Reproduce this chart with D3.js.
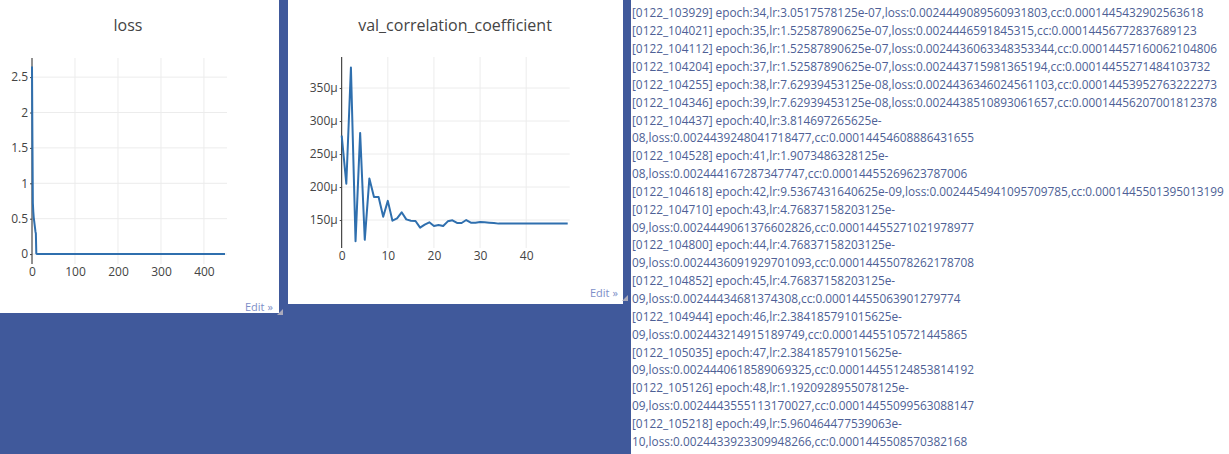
<!DOCTYPE html>
<html>
<head>
<meta charset="utf-8">
<script src="https://cdn.jsdelivr.net/npm/d3@7/dist/d3.min.js"></script>
<style>
  html, body { margin: 0; padding: 0; background: #40599b; overflow: hidden; }
  svg { display: block; }
</style>
</head>
<body>
<svg id="chart" width="1229" height="454"></svg>
<script>
// ---- data ----
const lossTitle = "loss";
const ccTitle = "val_correlation_coefficient";

// loss curve: [step, loss]
const lossSteps  = [0, 1, 2, 3, 4, 5, 6, 7, 8, 9, 10, 11, 449];
const lossValues = [2.65, 1.6, 0.72, 0.6, 0.52, 0.47, 0.42, 0.37, 0.32, 0.29, 0.01, 0.0025, 0.00244];
const lossXTicks = [0, 100, 200, 300, 400];
const lossYTicks = [0, 0.5, 1, 1.5, 2, 2.5];

// validation correlation coefficient per epoch (x1e-6)
const ccEpochs = d3.range(0, 50);
const ccValues = [278, 205, 381, 118, 282, 120, 213, 185, 185, 155,
                  179, 149, 152.5, 161.7, 151, 149, 148.5, 138.4, 143, 146.5,
                  141, 142.5, 141, 148, 149.5, 145.5, 145.5, 150, 146, 146,
                  147, 146.5, 146, 145.5, 144.54, 144.57, 144.57, 144.55, 144.54, 144.56,
                  144.55, 144.55, 144.55, 144.55, 144.55, 144.55, 144.55, 144.55, 144.55, 144.55];
const ccXTicks = [0, 10, 20, 30, 40];
const ccYTicks = [150, 200, 250, 300, 350];

// log panel lines (as displayed)
const logLines = [
  "[0122_103929] epoch:34,lr:3.0517578125e-07,loss:0.0024449089560931803,cc:0.00014454329025636 18",
  "[0122_104021] epoch:35,lr:1.52587890625e-07,loss:0.0024446591845315,cc:0.00014456772837689123",
  "[0122_104112] epoch:36,lr:1.52587890625e-07,loss:0.0024436063348353344,cc:0.00014457160062104806",
  "[0122_104204] epoch:37,lr:1.52587890625e-07,loss:0.002443715981365194,cc:0.00014455271484103732",
  "[0122_104255] epoch:38,lr:7.62939453125e-08,loss:0.0024436346024561103,cc:0.00014453952763222273",
  "[0122_104346] epoch:39,lr:7.62939453125e-08,loss:0.0024438510893061657,cc:0.00014456207001812378",
  "[0122_104437] epoch:40,lr:3.814697265625e-",
  "08,loss:0.0024439248041718477,cc:0.00014454608886431655",
  "[0122_104528] epoch:41,lr:1.9073486328125e-",
  "08,loss:0.002444167287347747,cc:0.00014455269623787006",
  "[0122_104618] epoch:42,lr:9.5367431640625e-09,loss:0.0024454941095709785,cc:0.0001445501395013199",
  "[0122_104710] epoch:43,lr:4.76837158203125e-",
  "09,loss:0.0024449061376602826,cc:0.00014455271021978977",
  "[0122_104800] epoch:44,lr:4.76837158203125e-",
  "09,loss:0.0024436091929701093,cc:0.00014455078262178708",
  "[0122_104852] epoch:45,lr:4.76837158203125e-",
  "09,loss:0.002444346813743 08,cc:0.00014455063901279774",
  "[0122_104944] epoch:46,lr:2.384185791015625e-",
  "09,loss:0.002443214915189749,cc:0.00014455105721445865",
  "[0122_105035] epoch:47,lr:2.384185791015625e-",
  "09,loss:0.0024440618589069325,cc:0.00014455124853814192",
  "[0122_105126] epoch:48,lr:1.1920928955078125e-",
  "09,loss:0.0024443555113170027,cc:0.00014455099563088147",
  "[0122_105218] epoch:49,lr:5.960464477539063e-",
  "10,loss:0.0024433923309948266,cc:0.0001445508570382168"
].map(s => s.replace(/(\d) (\d)/g, "$1$2"));

// ---- drawing ----
const svg = d3.select("#chart");
const FONT = "'Open Sans', 'Noto Sans', sans-serif";
const LINE = "#2f6fae";
const GRID = "#ececec";
const TXT = "#444";

function panel(x, y, w, h) {
  svg.append("rect").attr("x", x).attr("y", y).attr("width", w).attr("height", h).attr("fill", "#fff");
}
function editLink(x, y) {
  const g = svg.append("g");
  g.append("text").attr("x", x).attr("y", y).attr("font-family", FONT).attr("font-size", 11)
    .attr("fill", "#7d8ec8").text("Edit »");
  g.append("path").attr("d", `M${x + 32},${y + 4} l6,0 l0,-6 z`).attr("fill", "#aab");
}

function drawPlot(opts) {
  const { xs, ys, xDomain, yDomain, xRange, yRange, xTicks, yTicks, yFmt, title, titleX } = opts;
  const x = d3.scaleLinear().domain(xDomain).range(xRange);
  const y = d3.scaleLinear().domain(yDomain).range(yRange);
  const g = svg.append("g");

  // grid
  g.selectAll(".vg").data(xTicks.filter(t => t !== 0)).join("line")
    .attr("x1", d => x(d)).attr("x2", d => x(d))
    .attr("y1", yRange[1]).attr("y2", yRange[0])
    .attr("stroke", GRID).attr("stroke-width", 1);
  g.selectAll(".hg").data(yTicks).join("line")
    .attr("x1", xRange[0]).attr("x2", xRange[1] + 2)
    .attr("y1", d => y(d)).attr("y2", d => y(d))
    .attr("stroke", GRID).attr("stroke-width", 1);

  // y axis
  const ya = g.append("g").attr("transform", `translate(${xRange[0]},0)`)
    .call(d3.axisLeft(y).tickValues(yTicks).tickSize(2).tickPadding(2).tickFormat(yFmt));
  ya.select(".domain").attr("d", `M0,${yRange[1]}V${yRange[0]}`).attr("stroke", "#222");
  ya.selectAll(".tick line").attr("stroke", "#444");
  ya.selectAll("text").attr("font-family", FONT).attr("font-size", 12).attr("fill", TXT);

  // x axis labels
  const xa = g.append("g").attr("transform", `translate(0,${yRange[0]})`)
    .call(d3.axisBottom(x).tickValues(xTicks).tickSize(0).tickPadding(3));
  xa.select(".domain").remove();
  xa.selectAll("text").attr("font-family", FONT).attr("font-size", 12).attr("fill", TXT);

  // line
  const pts = xs.map((v, i) => [v, ys[i]]);
  g.append("path").datum(pts)
    .attr("d", d3.line().x(d => x(d[0])).y(d => y(d[1])))
    .attr("fill", "none").attr("stroke", LINE).attr("stroke-width", 2)
    .attr("stroke-linejoin", "round");

  // title
  svg.append("text").attr("x", titleX).attr("y", 31).attr("text-anchor", "middle")
    .attr("font-family", FONT).attr("font-size", 16).attr("fill", TXT).text(title);
}

// panels
panel(0, 0, 279, 313);
panel(288, 0, 335, 304);
panel(631, 0, 598, 454);

drawPlot({
  xs: lossSteps, ys: lossValues,
  xDomain: [0, 449], yDomain: [-0.14, 2.77],
  xRange: [32, 225], yRange: [264, 58],
  xTicks: lossXTicks, yTicks: lossYTicks,
  yFmt: d => String(d), title: lossTitle, titleX: 128
});
editLink(245, 311);

drawPlot({
  xs: ccEpochs, ys: ccValues,
  xDomain: [0, 49], yDomain: [107.6, 397],
  xRange: [341.7, 567.7], yRange: [248, 57],
  xTicks: ccXTicks, yTicks: ccYTicks,
  yFmt: d => d + "μ", title: ccTitle, titleX: 455
});
editLink(590, 297);

// log text
const logG = svg.append("g");
const lt = logG.selectAll("text").data(logLines).join("text")
  .attr("x", 632)
  .attr("y", (d, i) => 13.3 + i * 17.85)
  .attr("dy", "0.35em")
  .attr("font-family", FONT)
  .attr("font-size", 12.5)
  .attr("fill", "#4e5f96")
  .text(d => d);
// fit font size so the longest line spans the panel width
const longest = lt.nodes()[10];
const w = longest.getComputedTextLength();
const fs = 12.5 * 592 / w;
lt.attr("font-size", fs);
</script>
</body>
</html>
